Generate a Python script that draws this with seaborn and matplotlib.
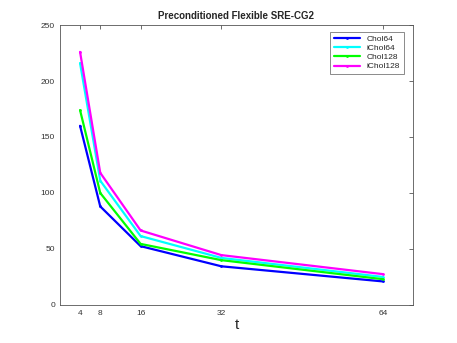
import pandas as pd
import matplotlib
matplotlib.use("Agg")
import matplotlib.pyplot as plt
import seaborn as sns

sns.set_style("white")
plt.rcParams["font.family"] = ["Liberation Sans", "DejaVu Sans"]

t = [4, 8, 16, 32, 64]
chol64 = [160, 88, 52.5, 34.5, 21]
ichol64 = [216, 111, 61.5, 42, 25]
chol128 = [174, 100, 54.5, 40, 23]
ichol128 = [226, 118, 66.5, 44.5, 27.5]
names = ["Chol64", "iChol64", "Chol128", "iChol128"]
colors = ["#0000ff", "#00ffff", "#00ff00", "#ff00ff"]

df = pd.concat([
    pd.DataFrame({"t": t, "iters": v, "method": n})
    for n, v in zip(names, [chol64, ichol64, chol128, ichol128])
])

fig = plt.figure(figsize=(4.57, 3.43), dpi=100)
ax = fig.add_axes([0.131, 0.111, 0.773, 0.816])

sns.lineplot(data=df, x="t", y="iters", hue="method", hue_order=names,
             palette=dict(zip(names, colors)), marker=".", markersize=4,
             markeredgewidth=0, linewidth=1.6, ax=ax)

ax.set_xlim(0, 70)
ax.set_ylim(0, 250)
ax.set_xticks(t)
ax.set_yticks(range(0, 251, 50))
ax.tick_params(direction="in", length=3, width=0.6, labelsize=6,
               colors="#555555", labelcolor="#333333", top=True, right=True)
for s in ax.spines.values():
    s.set_color("#555555")
    s.set_linewidth(0.6)

ax.set_title("Preconditioned Flexible SRE-CG2", fontsize=7, fontweight="bold", pad=4)
ax.set_xlabel("t", fontsize=11, labelpad=1)
ax.set_ylabel("")

leg = ax.legend(loc="upper right", fontsize=6, frameon=True, fancybox=False,
                borderpad=0.4, handlelength=3.2, labelspacing=0.15,
                bbox_to_anchor=(0.985, 0.99))
leg.get_frame().set_edgecolor("#555555")
leg.get_frame().set_linewidth(0.6)

fig.savefig("out.png", dpi=100)
